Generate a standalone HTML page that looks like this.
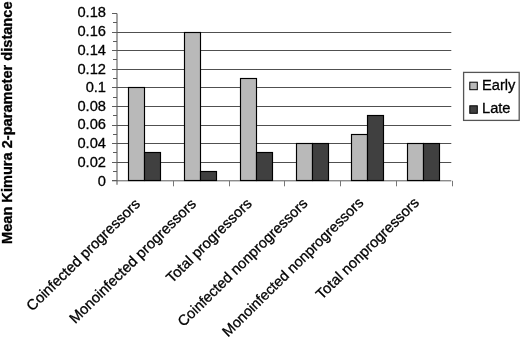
<!DOCTYPE html>
<html><head><meta charset="utf-8"><title>Chart</title>
<style>html,body{margin:0;padding:0;background:#fff}svg{display:block}text{font-family:"Liberation Sans",Arial,sans-serif;fill:#000;stroke:#000;stroke-width:0.3px}</style></head><body>
<svg width="520" height="341" viewBox="0 0 520 341">
<rect width="520" height="341" fill="#fff"/>
<line x1="117.0" y1="162.50" x2="451.3" y2="162.50" stroke="#505050" stroke-width="1"/>
<line x1="117.0" y1="143.50" x2="451.3" y2="143.50" stroke="#505050" stroke-width="1"/>
<line x1="117.0" y1="125.50" x2="451.3" y2="125.50" stroke="#505050" stroke-width="1"/>
<line x1="117.0" y1="106.50" x2="451.3" y2="106.50" stroke="#505050" stroke-width="1"/>
<line x1="117.0" y1="87.50" x2="451.3" y2="87.50" stroke="#505050" stroke-width="1"/>
<line x1="117.0" y1="69.50" x2="451.3" y2="69.50" stroke="#505050" stroke-width="1"/>
<line x1="117.0" y1="50.50" x2="451.3" y2="50.50" stroke="#505050" stroke-width="1"/>
<line x1="117.0" y1="32.50" x2="451.3" y2="32.50" stroke="#505050" stroke-width="1"/>
<line x1="117.0" y1="13.49" x2="117.0" y2="184.8" stroke="#5c5c5c" stroke-width="1.1"/>
<line x1="112.0" y1="180.8" x2="451.3" y2="180.8" stroke="#5c5c5c" stroke-width="1"/>
<line x1="112.0" y1="180.50" x2="117.0" y2="180.50" stroke="#5c5c5c" stroke-width="1"/>
<line x1="113.0" y1="171.50" x2="117.0" y2="171.50" stroke="#5c5c5c" stroke-width="1"/>
<line x1="112.0" y1="162.50" x2="117.0" y2="162.50" stroke="#5c5c5c" stroke-width="1"/>
<line x1="113.0" y1="152.50" x2="117.0" y2="152.50" stroke="#5c5c5c" stroke-width="1"/>
<line x1="112.0" y1="143.50" x2="117.0" y2="143.50" stroke="#5c5c5c" stroke-width="1"/>
<line x1="113.0" y1="134.50" x2="117.0" y2="134.50" stroke="#5c5c5c" stroke-width="1"/>
<line x1="112.0" y1="125.50" x2="117.0" y2="125.50" stroke="#5c5c5c" stroke-width="1"/>
<line x1="113.0" y1="115.50" x2="117.0" y2="115.50" stroke="#5c5c5c" stroke-width="1"/>
<line x1="112.0" y1="106.50" x2="117.0" y2="106.50" stroke="#5c5c5c" stroke-width="1"/>
<line x1="113.0" y1="97.50" x2="117.0" y2="97.50" stroke="#5c5c5c" stroke-width="1"/>
<line x1="112.0" y1="87.50" x2="117.0" y2="87.50" stroke="#5c5c5c" stroke-width="1"/>
<line x1="113.0" y1="78.50" x2="117.0" y2="78.50" stroke="#5c5c5c" stroke-width="1"/>
<line x1="112.0" y1="69.50" x2="117.0" y2="69.50" stroke="#5c5c5c" stroke-width="1"/>
<line x1="113.0" y1="59.50" x2="117.0" y2="59.50" stroke="#5c5c5c" stroke-width="1"/>
<line x1="112.0" y1="50.50" x2="117.0" y2="50.50" stroke="#5c5c5c" stroke-width="1"/>
<line x1="113.0" y1="41.50" x2="117.0" y2="41.50" stroke="#5c5c5c" stroke-width="1"/>
<line x1="112.0" y1="32.50" x2="117.0" y2="32.50" stroke="#5c5c5c" stroke-width="1"/>
<line x1="113.0" y1="22.50" x2="117.0" y2="22.50" stroke="#5c5c5c" stroke-width="1"/>
<line x1="112.0" y1="13.50" x2="117.0" y2="13.50" stroke="#5c5c5c" stroke-width="1"/>
<line x1="173.50" y1="180.8" x2="173.50" y2="186.3" stroke="#777" stroke-width="1"/>
<line x1="229.50" y1="180.8" x2="229.50" y2="186.3" stroke="#777" stroke-width="1"/>
<line x1="284.50" y1="180.8" x2="284.50" y2="186.3" stroke="#777" stroke-width="1"/>
<line x1="340.50" y1="180.8" x2="340.50" y2="186.3" stroke="#777" stroke-width="1"/>
<line x1="396.50" y1="180.8" x2="396.50" y2="186.3" stroke="#777" stroke-width="1"/>
<line x1="452.50" y1="180.8" x2="452.50" y2="186.3" stroke="#777" stroke-width="1"/>
<rect x="128.50" y="87.50" width="16" height="93.00" fill="#b9b9b9" stroke="#000" stroke-width="1.15"/>
<rect x="144.50" y="152.50" width="16" height="28.00" fill="#404040" stroke="#000" stroke-width="1.15"/>
<rect x="184.50" y="32.50" width="16" height="148.00" fill="#b9b9b9" stroke="#000" stroke-width="1.15"/>
<rect x="200.50" y="171.50" width="16" height="9.00" fill="#404040" stroke="#000" stroke-width="1.15"/>
<rect x="240.50" y="78.50" width="16" height="102.00" fill="#b9b9b9" stroke="#000" stroke-width="1.15"/>
<rect x="256.50" y="152.50" width="16" height="28.00" fill="#404040" stroke="#000" stroke-width="1.15"/>
<rect x="296.50" y="143.50" width="16" height="37.00" fill="#b9b9b9" stroke="#000" stroke-width="1.15"/>
<rect x="312.50" y="143.50" width="16" height="37.00" fill="#404040" stroke="#000" stroke-width="1.15"/>
<rect x="351.50" y="134.50" width="16" height="46.00" fill="#b9b9b9" stroke="#000" stroke-width="1.15"/>
<rect x="367.50" y="115.50" width="16" height="65.00" fill="#404040" stroke="#000" stroke-width="1.15"/>
<rect x="407.50" y="143.50" width="16" height="37.00" fill="#b9b9b9" stroke="#000" stroke-width="1.15"/>
<rect x="423.50" y="143.50" width="16" height="37.00" fill="#404040" stroke="#000" stroke-width="1.15"/>
<text x="106" y="186.00" font-size="14.67" text-anchor="end">0</text>
<text x="106" y="166.61" font-size="14.67" text-anchor="end">0.02</text>
<text x="106" y="148.02" font-size="14.67" text-anchor="end">0.04</text>
<text x="106" y="129.43" font-size="14.67" text-anchor="end">0.06</text>
<text x="106" y="110.84" font-size="14.67" text-anchor="end">0.08</text>
<text x="106" y="92.25" font-size="14.67" text-anchor="end">0.1</text>
<text x="106" y="73.66" font-size="14.67" text-anchor="end">0.12</text>
<text x="106" y="55.07" font-size="14.67" text-anchor="end">0.14</text>
<text x="106" y="36.48" font-size="14.67" text-anchor="end">0.16</text>
<text x="106" y="17.39" font-size="14.67" text-anchor="end">0.18</text>
<text transform="translate(141.10,204.80) rotate(-44.5)" font-size="14.75" text-anchor="end">Coinfected progressors</text>
<text transform="translate(196.90,204.80) rotate(-44.5)" font-size="14.75" text-anchor="end">Monoinfected progressors</text>
<text transform="translate(252.70,204.50) rotate(-44.5)" font-size="14.75" text-anchor="end">Total progressors</text>
<text transform="translate(308.50,204.50) rotate(-44.5)" font-size="14.6" text-anchor="end">Coinfected nonprogressors</text>
<text transform="translate(364.30,203.60) rotate(-44.5)" font-size="14.45" text-anchor="end">Monoinfected nonprogressors</text>
<text transform="translate(420.10,203.60) rotate(-44.5)" font-size="14.75" text-anchor="end">Total nonprogressors</text>
<text transform="translate(11.7,244) rotate(-90)" font-size="14.6" font-weight="bold" stroke="none">Mean Kimura 2-parameter distance</text>
<rect x="463.6" y="72.4" width="55.6" height="48" fill="#fff" stroke="#555" stroke-width="1.3"/>
<rect x="469.8" y="82.2" width="7.5" height="7.5" fill="#b9b9b9" stroke="#000" stroke-width="1"/>
<rect x="469.8" y="105.8" width="7.5" height="7.5" fill="#404040" stroke="#000" stroke-width="1"/>
<text x="482" y="89.5" font-size="14.67">Early</text>
<text x="482" y="113" font-size="14.67">Late</text>
</svg></body></html>
